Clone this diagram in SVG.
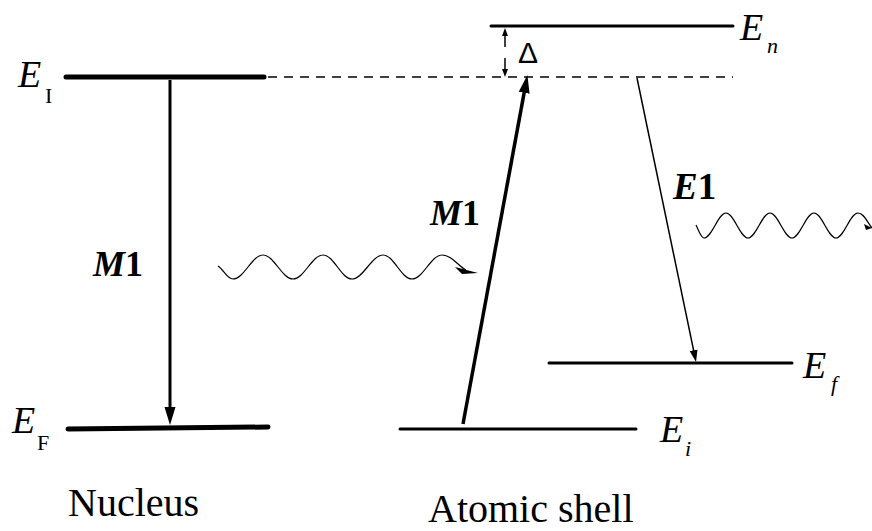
<svg xmlns="http://www.w3.org/2000/svg" width="872" height="531" viewBox="0 0 872 531">
<style>
.lvl{stroke:#000;stroke-linecap:round;fill:none}
.t{font-family:"Liberation Serif","Times New Roman",serif;fill:#000}
.it{font-style:italic}
.b{font-weight:bold}
.wave{fill:none;stroke:#000;stroke-width:1.2}
</style>
<defs>
<marker id="ahBig" markerUnits="userSpaceOnUse" markerWidth="20" markerHeight="14" refX="8" refY="0" viewBox="0 -7 20 14" orient="auto"><path d="M0,-5.5 L18,0 L0,5.5 z" fill="#000"/></marker>
<marker id="ahSmall" markerUnits="userSpaceOnUse" markerWidth="14" markerHeight="10" refX="5" refY="0" viewBox="0 -5 14 10" orient="auto"><path d="M0,-4 L12,0 L0,4 z" fill="#000"/></marker>
<marker id="ahTiny" markerUnits="userSpaceOnUse" markerWidth="10" markerHeight="8" refX="2" refY="0" viewBox="0 -4 10 8" orient="auto"><path d="M0,-3 L8,0 L0,3 z" fill="#000"/></marker>
</defs>

<g id="level-EI"><line class="lvl" x1="66" y1="77" x2="264" y2="77" stroke-width="5"/>
<text class="t it" x="18" y="87" font-size="38">E</text>
<text class="t" x="45" y="103" font-size="22">I</text></g>
<g id="level-EF"><line class="lvl" x1="68" y1="429" x2="268" y2="427" stroke-width="5"/>
<text class="t it" x="12" y="433" font-size="38">E</text>
<text class="t" x="37" y="450" font-size="22">F</text></g>
<g id="level-En"><line class="lvl" x1="491" y1="26" x2="733" y2="26" stroke-width="3"/>
<text class="t it" x="740" y="40" font-size="38">E</text>
<text class="t it" x="767" y="53" font-size="22">n</text></g>
<g id="level-Ef"><line class="lvl" x1="549" y1="363" x2="792" y2="363" stroke-width="3"/>
<text class="t it" x="803" y="378" font-size="38">E</text>
<text class="t it" x="831" y="391" font-size="22">f</text></g>
<g id="level-Ei"><line class="lvl" x1="400" y1="429" x2="636" y2="429" stroke-width="3"/>
<text class="t it" x="660" y="442" font-size="38">E</text>
<text class="t it" x="685" y="456" font-size="22">i</text></g>
<g id="virtual-level"><line x1="268" y1="77" x2="733" y2="77" stroke="#000" stroke-width="1.5" stroke-dasharray="9 7"/></g>
<g id="delta"><text x="518" y="63" font-size="30" style="font-family:'Liberation Sans',Arial,sans-serif">Δ</text></g>

<g id="connectors">
<line x1="170" y1="80" x2="170" y2="415" stroke="#000" stroke-width="3" marker-end="url(#ahBig)"/>
<line x1="463" y1="424" x2="525.6" y2="84.9" stroke="#000" stroke-width="3.5" marker-end="url(#ahBig)"/>
<line x1="637" y1="78" x2="694.6" y2="355.1" stroke="#000" stroke-width="1.5" marker-end="url(#ahSmall)"/>
<line x1="505" y1="47" x2="505" y2="34" stroke="#000" stroke-width="1.5" marker-end="url(#ahTiny)"/>
<line x1="505" y1="58" x2="505" y2="71" stroke="#000" stroke-width="1.5" marker-end="url(#ahTiny)"/>
</g>

<g id="label-M1-nucleus"><text class="t b" x="93" y="276" font-size="36"><tspan class="it">M</tspan>1</text></g>
<g id="label-M1-shell"><text class="t b" x="430" y="225" font-size="36"><tspan class="it">M</tspan>1</text></g>
<g id="label-E1"><text class="t b" x="673" y="199" font-size="37"><tspan class="it">E</tspan>1</text></g>

<g id="wave-left">
<path class="wave" d="M218,266 C224,270 227,279 233,279 C244,279 252,255 263,255 C274,255 282,279 293,279 C304,279 312,255 323,255 C334,255 341,279 352,279 C363,279 372,255 383,255 C394,255 401,279 412,279 C423,279 431,255 442,255 C452,255 458,266 466,270"/>
<path d="M455,267 L478,273 L462,274 z" fill="#000"/>
</g>
<g id="wave-right">
<path class="wave" d="M696,225 C699,231 701,238 704,238 C712,238 718,213 726,213 C734,213 740,238 748,238 C756,238 762,213 770,213 C778,213 784,238 792,238 C800,238 806,213 814,213 C822,213 828,238 836,238 C844,238 850,213 858,213 C864,213 867,222 872,228"/>
<path d="M864,224 L872,228 L866,230 z" fill="#000"/>
</g>

<g id="captions">
<text class="t" x="68" y="516" font-size="40">Nucleus</text>
<text class="t" x="428" y="522" font-size="40">Atomic shell</text>
</g>
</svg>
